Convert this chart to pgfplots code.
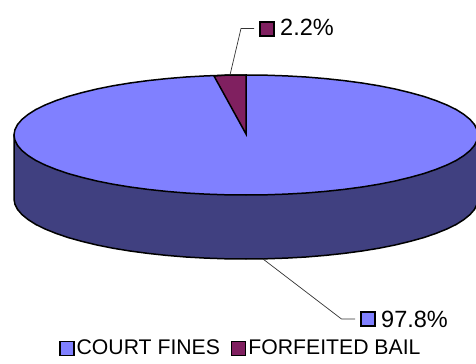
\documentclass[border=0pt]{standalone}
\usepackage{pgfplots}
\usepackage{fontspec}
\setmainfont{Liberation Sans}
\pgfplotsset{compat=1.18}
\definecolor{top}{RGB}{128,128,255}
\definecolor{side}{RGB}{64,64,128}
\definecolor{wedge}{RGB}{128,32,96}
\begin{document}
\begin{tikzpicture}
\useasboundingbox (0bp,0bp) rectangle (476bp,364bp);
\begin{axis}[
  at={(0bp,0bp)}, anchor=south west,
  scale only axis, width=476bp, height=364bp,
  xmin=0, xmax=476, ymin=0, ymax=364, y dir=reverse,
  hide axis, clip=true,
  legend columns=2,
  legend style={draw=none, fill=none, at={(axis cs:59,338)}, anchor=north west,
    font=\fontsize{21.2bp}{24bp}\selectfont, inner xsep=0pt, inner ysep=0pt,
    /tikz/every even column/.append style={column sep=9bp}},
  legend cell align=left,
]
% side of the disc
\addplot[forget plot, fill=side, draw=black, line width=1.5bp] coordinates {
(14,135)(14,199)(14.9,204.2)(17.5,209.4)(21.9,214.5)(28,219.5)(35.7,224.4)(45.1,229)(56,233.4)(68.3,237.6)(82,241.4)(96.9,245)(112.9,248.2)(130,251)(148,253.4)(166.7,255.4)(186,257)(205.7,258.1)(225.8,258.8)(246,259)
(266.2,258.8)(286.3,258.1)(306,257)(325.3,255.4)(344,253.4)(362,251)(379.1,248.2)(395.1,245)(410,241.4)(423.7,237.6)(436,233.4)(446.9,229)(456.3,224.4)(464,219.5)(470.1,214.5)(474.5,209.4)(477.1,204.2)(478,199)(478,135)
} -- cycle;
% top of the disc: court fines
\addplot[fill=top, draw=black, line width=1.5bp,
  legend image code/.code={\draw[fill=top,draw=black,line width=1.5bp] (0bp,-7bp) rectangle (14bp,7bp);}] coordinates {
(478,135)(477.1,129.8)(474.5,124.6)(470.1,119.5)(464,114.5)(456.3,109.6)(446.9,105)(436,100.6)(423.7,96.4)(410,92.6)(395.1,89)(379.1,85.8)(362,83)(344,80.6)(325.3,78.6)(306,77)(286.3,75.9)(266.2,75.2)(246,75)
(225.8,75.2)(205.7,75.9)(186,77)(166.7,78.6)(148,80.6)(130,83)(112.9,85.8)(96.9,89)(82,92.6)(68.3,96.4)(56,100.6)(45.1,105)(35.7,109.6)(28,114.5)(21.9,119.5)(17.5,124.6)(14.9,129.8)(14,135)
(14.9,140.2)(17.5,145.4)(21.9,150.5)(28,155.5)(35.7,160.4)(45.1,165)(56,169.4)(68.3,173.6)(82,177.4)(96.9,181)(112.9,184.2)(130,187)(148,189.4)(166.7,191.4)(186,193)(205.7,194.1)(225.8,194.8)(246,195)
(266.2,194.8)(286.3,194.1)(306,193)(325.3,191.4)(344,189.4)(362,187)(379.1,184.2)(395.1,181)(410,177.4)(423.7,173.6)(436,169.4)(446.9,165)(456.3,160.4)(464,155.5)(470.1,150.5)(474.5,145.4)(477.1,140.2)(478,135)
} -- cycle;
\addlegendentry{COURT FINES}
% forfeited bail wedge
\addplot[fill=wedge, draw=black, line width=1.5bp,
  legend image code/.code={\draw[fill=wedge,draw=black,line width=1.5bp] (0bp,-7bp) rectangle (14bp,7bp);}] coordinates {
(246,134)(214,76)(225.8,75.2)(246,75)
} -- cycle;
\addlegendentry{FORFEITED BAIL}
% leader lines
\addplot[forget plot, draw=black!80, line width=0.7bp] coordinates {(230,75)(241,28.5)(254,28.5)};
\addplot[forget plot, draw=black!80, line width=0.7bp] coordinates {(263,259)(341.5,319)(355,319)};
% data label keys
\addplot[forget plot, fill=wedge, draw=black, line width=1.5bp] coordinates {(260,22)(274,22)(274,36)(260,36)} -- cycle;
\addplot[forget plot, fill=top, draw=black, line width=1.5bp] coordinates {(361,312)(375,312)(375,326)(361,326)} -- cycle;
\node[anchor=base west, inner sep=0pt, font=\fontsize{23.5bp}{26bp}\selectfont] at (axis cs:280,36) {2.2\%};
\node[anchor=base west, inner sep=0pt, font=\fontsize{23.5bp}{26bp}\selectfont] at (axis cs:381,327) {97.8\%};
\end{axis}
\end{tikzpicture}
\end{document}
